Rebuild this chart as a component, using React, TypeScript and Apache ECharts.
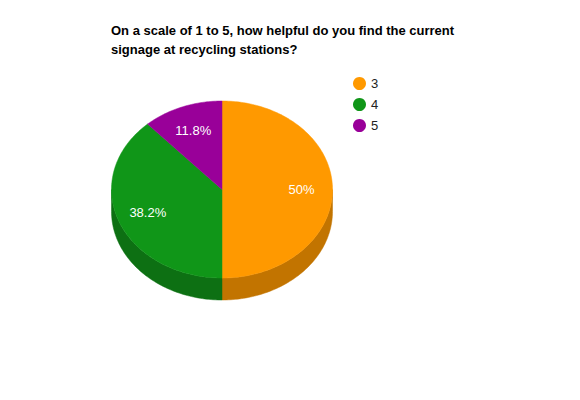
import React, { useEffect, useRef } from "react";
import * as echarts from "echarts";

const titleText = "On a scale of 1 to 5, how helpful do you find the current\nsignage at recycling stations?";
const categories = ["3", "4", "5"];
const counts = [17, 13, 4];
const topColors = ["#ff9900", "#109618", "#990099"];
const sideColors = ["#c27400", "#0d7013", "#720072"];

export default function App() {
  const ref = useRef<HTMLDivElement>(null);
  useEffect(() => {
    if (!ref.current) return;
    const chart = echarts.init(ref.current, null, { renderer: "svg" });
    const total = counts.reduce((a, b) => a + b, 0);
    const cx = 222, cy = 189.5, rx = 110.5, ry = 88.5, depth = 22;
    const pt = (a: number, dy = 0) => [cx + rx * Math.sin(a), cy - ry * Math.cos(a) + dy];
    const arc = (a: number, b: number, dy = 0) => {
      const n = Math.max(2, Math.ceil(Math.abs(b - a) / 0.02));
      const out: number[][] = [];
      for (let k = 0; k <= n; k++) out.push(pt(a + ((b - a) * k) / n, dy));
      return out;
    };
    const renderItem = (params: any, api: any) => {
      const i = params.dataIndex;
      let before = 0;
      for (let k = 0; k < i; k++) before += counts[k];
      const v = api.value(0);
      const a0 = (before / total) * Math.PI * 2;
      const a1 = ((before + v) / total) * Math.PI * 2;
      const children: any[] = [];
      const s0 = Math.max(a0, Math.PI / 2);
      const s1 = Math.min(a1, (Math.PI * 3) / 2);
      if (s1 > s0) {
        const pts = arc(s0, s1).concat(arc(s1, s0, depth));
        children.push({
          type: "polygon",
          shape: { points: pts },
          style: { fill: sideColors[i], stroke: sideColors[i], lineWidth: 0.5 },
        });
      }
      const topPts = [[cx, cy]].concat(arc(a0, a1));
      children.push({
        type: "polygon",
        shape: { points: topPts },
        style: { fill: topColors[i], stroke: topColors[i], lineWidth: 0.5 },
        z2: 10,
      });
      const mid = (a0 + a1) / 2;
      const lp = [cx + rx * 0.72 * Math.sin(mid), cy - ry * 0.72 * Math.cos(mid)];
      const pct = Math.round((v / total) * 1000) / 10;
      children.push({
        type: "text",
        x: lp[0],
        y: lp[1],
        z2: 20,
        style: {
          text: pct + "%",
          fill: "#ffffff",
          font: "13px 'Liberation Sans', Arial, sans-serif",
          align: "center",
          verticalAlign: "middle",
        },
      });
      return { type: "group", children };
    };
    chart.setOption({
      animation: false,
      backgroundColor: "#ffffff",
      title: {
        text: titleText,
        left: 111,
        top: 21,
        padding: 0,
        textStyle: {
          fontFamily: "'Liberation Sans', Arial, sans-serif",
          fontSize: 13,
          fontWeight: "bold",
          color: "#000000",
          lineHeight: 19,
        },
      },
      legend: {
        data: categories,
        orient: "vertical",
        left: 353,
        top: 77,
        padding: 0,
        icon: "circle",
        itemWidth: 13,
        itemHeight: 13,
        itemGap: 8,
        selectedMode: false,
        textStyle: {
          fontFamily: "'Liberation Sans', Arial, sans-serif",
          fontSize: 13,
          color: "#222222",
        },
      },
      series: [
        {
          type: "custom",
          coordinateSystem: "none",
          silent: true,
          data: counts.map((c) => [c]),
          renderItem,
        },
        {
          type: "pie",
          radius: [0, 0],
          center: [-100, -100],
          silent: true,
          label: { show: false },
          labelLine: { show: false },
          data: categories.map((name, i) => ({
            name,
            value: counts[i],
            itemStyle: { color: topColors[i] },
          })),
        },
      ],
    });
    return () => chart.dispose();
  }, []);
  return (
    <div
      ref={ref}
      style={{ position: "fixed", left: 0, top: 0, width: 580, height: 400 }}
    />
  );
}
